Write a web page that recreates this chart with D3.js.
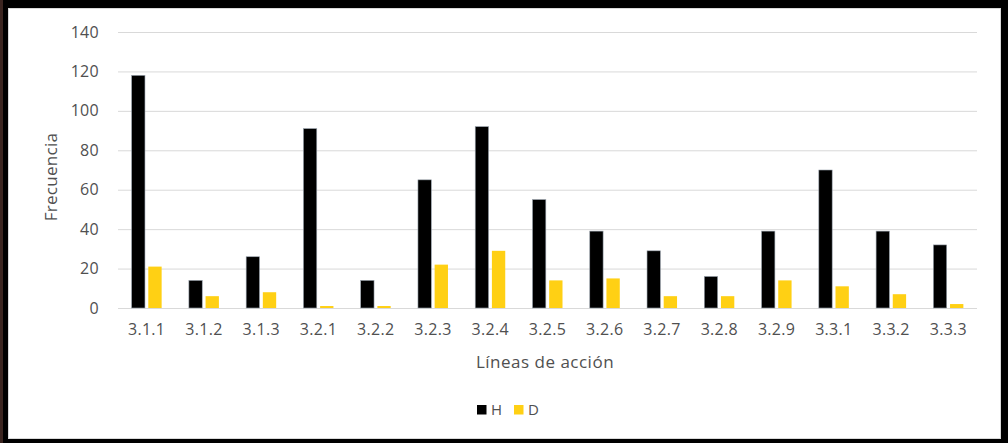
<!DOCTYPE html>
<html>
<head>
<meta charset="utf-8">
<script src="https://cdn.jsdelivr.net/npm/d3@7"></script>
<style>
  html, body { margin: 0; padding: 0; background: #000; }
  svg { display: block; }
  text { font-family: "Open Sans", "Noto Sans", sans-serif; fill: #505050; }
</style>
</head>
<body>
<svg id="chart" width="1008" height="443"></svg>
<script>
const categories = ["3.1.1","3.1.2","3.1.3","3.2.1","3.2.2","3.2.3","3.2.4","3.2.5","3.2.6","3.2.7","3.2.8","3.2.9","3.3.1","3.3.2","3.3.3"];
const seriesNames = ["H", "D"];
const valuesH = [118, 14, 26, 91, 14, 65, 92, 55, 39, 29, 16, 39, 70, 39, 32];
const valuesD = [21, 6, 8, 1, 1, 22, 29, 14, 15, 6, 6, 14, 11, 7, 2];
const yTicks = [0, 20, 40, 60, 80, 100, 120, 140];
const colors = ["#000000", "#FFD014"];
const xTitle = "Líneas de acción";
const yTitle = "Frecuencia";

const svg = d3.select("#chart");

// outer frame
svg.append("rect").attr("x", 0).attr("y", 0).attr("width", 3).attr("height", 443).attr("fill", "#3b2520");
svg.append("rect").attr("x", 8.5).attr("y", 8.5).attr("width", 992).attr("height", 430)
  .attr("fill", "#ffffff").attr("stroke", "#d9d9d9").attr("stroke-width", 1);

const mLeft = 118, mRight = 977, mTop = 32, mBottom = 308;

const y = d3.scaleLinear().domain([0, 140]).range([mBottom, mTop]);
const p = 0.476;
const x0 = d3.scaleBand().domain(categories).range([mLeft, mRight]).paddingInner(p).paddingOuter(p / 2);
const x1 = d3.scaleBand().domain(seriesNames).range([0, x0.bandwidth()]).paddingInner(0.2).paddingOuter(0);

// y axis with gridlines
const yAxis = svg.append("g").attr("transform", `translate(${mLeft},0)`)
  .call(d3.axisLeft(y).tickValues(yTicks).tickSize(-(mRight - mLeft)).tickPadding(19));
yAxis.select(".domain").remove();
yAxis.selectAll(".tick line").attr("stroke", "#d9d9d9").attr("stroke-width", 1);
yAxis.selectAll(".tick text").style("font-size", "16px").style("letter-spacing", "0.3px").attr("fill", "#505050");

// x axis
const xAxis = svg.append("g").attr("transform", `translate(0,${mBottom})`)
  .call(d3.axisBottom(x0).tickSize(0).tickPadding(15.5));
xAxis.select(".domain").remove();
xAxis.selectAll(".tick text").style("font-size", "16px").style("letter-spacing", "0.3px").attr("fill", "#505050");

// bars
const data = categories.map((c, i) => ({ cat: c, vals: [
  { name: "H", v: valuesH[i] }, { name: "D", v: valuesD[i] }
]}));

const groups = svg.append("g").selectAll("g").data(data).join("g")
  .attr("transform", d => `translate(${x0(d.cat)},0)`);
groups.selectAll("rect").data(d => d.vals).join("rect")
  .attr("x", d => x1(d.name))
  .attr("y", d => y(d.v))
  .attr("width", x1.bandwidth())
  .attr("height", d => y(0) - y(d.v))
  .attr("fill", d => colors[seriesNames.indexOf(d.name)])
  .attr("stroke", d => d.name === "H" ? "#9aa3ad" : "none")
  .attr("stroke-width", 0.6);

// axis titles
svg.append("text").attr("x", 545).attr("y", 368).attr("text-anchor", "middle")
  .style("font-size", "17px").style("letter-spacing", "0.5px").text(xTitle);
svg.append("text").attr("transform", "translate(57,177) rotate(-90)").attr("text-anchor", "middle")
  .style("font-size", "17px").style("letter-spacing", "0.3px").text(yTitle);

// legend
const legendX = [477, 514];
const leg = svg.append("g").selectAll("g").data(seriesNames).join("g")
  .attr("transform", (d, i) => `translate(${legendX[i]},405)`);
leg.append("rect").attr("width", 9.5).attr("height", 9.5).attr("fill", (d, i) => colors[i]);
leg.append("text").attr("x", 14).attr("y", 9.5).style("font-size", "15px").text(d => d);
</script>
</body>
</html>
